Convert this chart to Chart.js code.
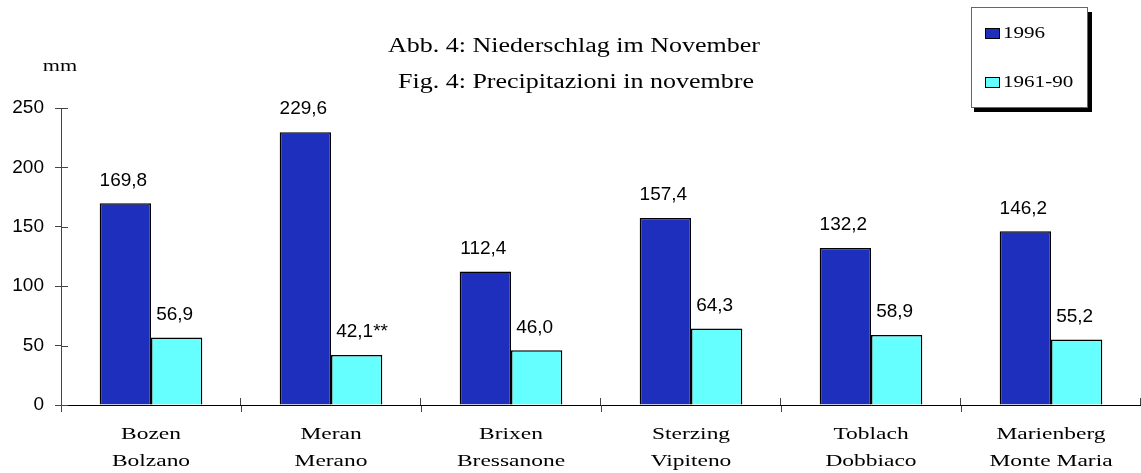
<!DOCTYPE html>
<html>
<head>
<meta charset="utf-8">
<script src="https://cdn.jsdelivr.net/npm/chart.js@4"></script>
<style>
  body { margin: 0; background: #fff; }
  #wrap { width: 1141px; height: 473px; }
</style>
</head>
<body>
<div id="wrap"><canvas id="rainChart" width="1141" height="473"></canvas></div>
<script>
const stations = [['Bozen', 'Bolzano'], ['Meran', 'Merano'], ['Brixen', 'Bressanone'],
  ['Sterzing', 'Vipiteno'], ['Toblach', 'Dobbiaco'], ['Marienberg', 'Monte Maria']];
const rain1996 = [169.8, 229.6, 112.4, 157.4, 132.2, 146.2];
const rainNormal = [56.9, 42.1, 46.0, 64.3, 58.9, 55.2];
const normalNotes = ['', '**', '', '', '', ''];
const yTicks = [0, 50, 100, 150, 200, 250];
const titleLines = ['Abb. 4: Niederschlag im November', 'Fig. 4: Precipitazioni in novembre'];

const serif = '"Liberation Serif", "DejaVu Serif", serif';
const sans = '"Liberation Sans", Arial, sans-serif';

const fmt = v => v.toFixed(1).replace('.', ',');

// the serif text in the original is drawn wider than normal
function wideText(ctx, txt, x, y, font, sx, align) {
  ctx.save();
  ctx.font = font;
  ctx.textBaseline = 'middle';
  ctx.textAlign = 'left';
  const w = ctx.measureText(txt).width * sx;
  let left = x;
  if (align === 'center') left = x - w / 2;
  ctx.translate(left, y);
  ctx.scale(sx, 1);
  ctx.fillText(txt, 0, 0);
  ctx.restore();
}

// value labels over the bars
const valueLabels = {
  id: 'valueLabels',
  afterDatasetsDraw(chart) {
    const ctx = chart.ctx;
    ctx.save();
    ctx.font = '19px ' + sans;
    ctx.fillStyle = '#000';
    ctx.textAlign = 'center';
    ctx.textBaseline = 'middle';
    chart.data.datasets.forEach((ds, di) => {
      chart.getDatasetMeta(di).data.forEach((bar, i) => {
        let txt = fmt(ds.data[i]);
        let shift = 0;
        if (di === 1 && normalNotes[i]) {
          txt += normalNotes[i];
          shift = ctx.measureText(normalNotes[i]).width / 2;
        }
        ctx.fillText(txt, bar.x - 2 + shift, bar.y - 23);
      });
    });
    ctx.restore();
  }
};

// title, unit, category names, legend box and ticks crossing the axes
const decorations = {
  id: 'decorations',
  afterDraw(chart) {
    const ctx = chart.ctx;
    const x = chart.scales.x, y = chart.scales.y;
    ctx.save();
    ctx.fillStyle = '#000';
    wideText(ctx, titleLines[0], 574, 47, '20px ' + serif, 1.3, 'center');
    wideText(ctx, titleLines[1], 576, 83, '20px ' + serif, 1.3, 'center');
    wideText(ctx, 'mm', 60, 67, '17px ' + serif, 1.3, 'center');

    stations.forEach((lines, i) => {
      const cx = x.getPixelForValue(i);
      lines.forEach((t, j) => wideText(ctx, t, cx, 435 + j * 27, '17px ' + serif, 1.38, 'center'));
    });

    // inner halves of the tick marks
    ctx.strokeStyle = '#444';
    ctx.lineWidth = 1;
    ctx.beginPath();
    yTicks.forEach(v => {
      const py = Math.round(y.getPixelForValue(v)) + 0.5;
      ctx.moveTo(x.left, py);
      ctx.lineTo(x.left + 7, py);
    });
    for (let i = 1; i <= stations.length; i++) {
      const px = Math.round(x.left + (x.right - x.left) * i / stations.length) - 0.5;
      ctx.moveTo(px, y.bottom);
      ctx.lineTo(px, y.bottom - 7);
    }
    ctx.stroke();

    // legend box with shadow
    const bx = 971, by = 7, bw = 116, bh = 100;
    ctx.fillStyle = '#000';
    ctx.fillRect(bx + bw, by + 5, 5, bh);
    ctx.fillRect(bx + 3, by + bh, bw + 2, 5);
    ctx.fillStyle = '#fff';
    ctx.fillRect(bx, by, bw, bh);
    ctx.strokeStyle = '#666';
    ctx.strokeRect(bx + 0.5, by + 0.5, bw, bh);
    chart.data.datasets.forEach((ds, i) => {
      const ly = by + 26 + i * 49;
      ctx.fillStyle = ds.backgroundColor;
      ctx.fillRect(bx + 14, ly - 5, 14, 10);
      ctx.strokeStyle = '#000';
      ctx.strokeRect(bx + 14.5, ly - 4.5, 14, 10);
      ctx.fillStyle = '#000';
      wideText(ctx, ds.label, bx + 32, ly + 1, '17px ' + serif, 1.24, 'left');
    });
    ctx.restore();
  }
};

new Chart(document.getElementById('rainChart'), {
  type: 'bar',
  data: {
    labels: stations,
    datasets: [
      { label: '1996', data: rain1996, backgroundColor: '#1f2fbd', borderColor: '#000', borderWidth: 1.5 },
      { label: '1961-90', data: rainNormal, backgroundColor: '#66ffff', borderColor: '#000', borderWidth: 1.5 }
    ]
  },
  options: {
    responsive: false,
    animation: false,
    layout: { padding: { top: 108, right: 0, left: 0, bottom: 0 } },
    datasets: { bar: { categoryPercentage: 0.57, barPercentage: 1 } },
    scales: {
      x: {
        offset: true,
        grid: { display: true, drawOnChartArea: false, offset: true, tickLength: 7, color: '#444' },
        border: { color: '#000', width: 1 },
        ticks: { display: false },
        afterFit(scale) { scale.height = 68; }
      },
      y: {
        min: 0, max: 250,
        afterBuildTicks(scale) { scale.ticks = yTicks.map(v => ({ value: v })); },
        grid: { drawOnChartArea: false, tickLength: 6, color: '#444' },
        border: { color: '#444', width: 1 },
        ticks: { color: '#000', font: { family: sans, size: 19 }, padding: 11 },
        afterFit(scale) { scale.width = 61; }
      }
    },
    plugins: {
      legend: { display: false },
      title: { display: false },
      tooltip: { enabled: false }
    }
  },
  plugins: [valueLabels, decorations]
});
</script>
</body>
</html>
